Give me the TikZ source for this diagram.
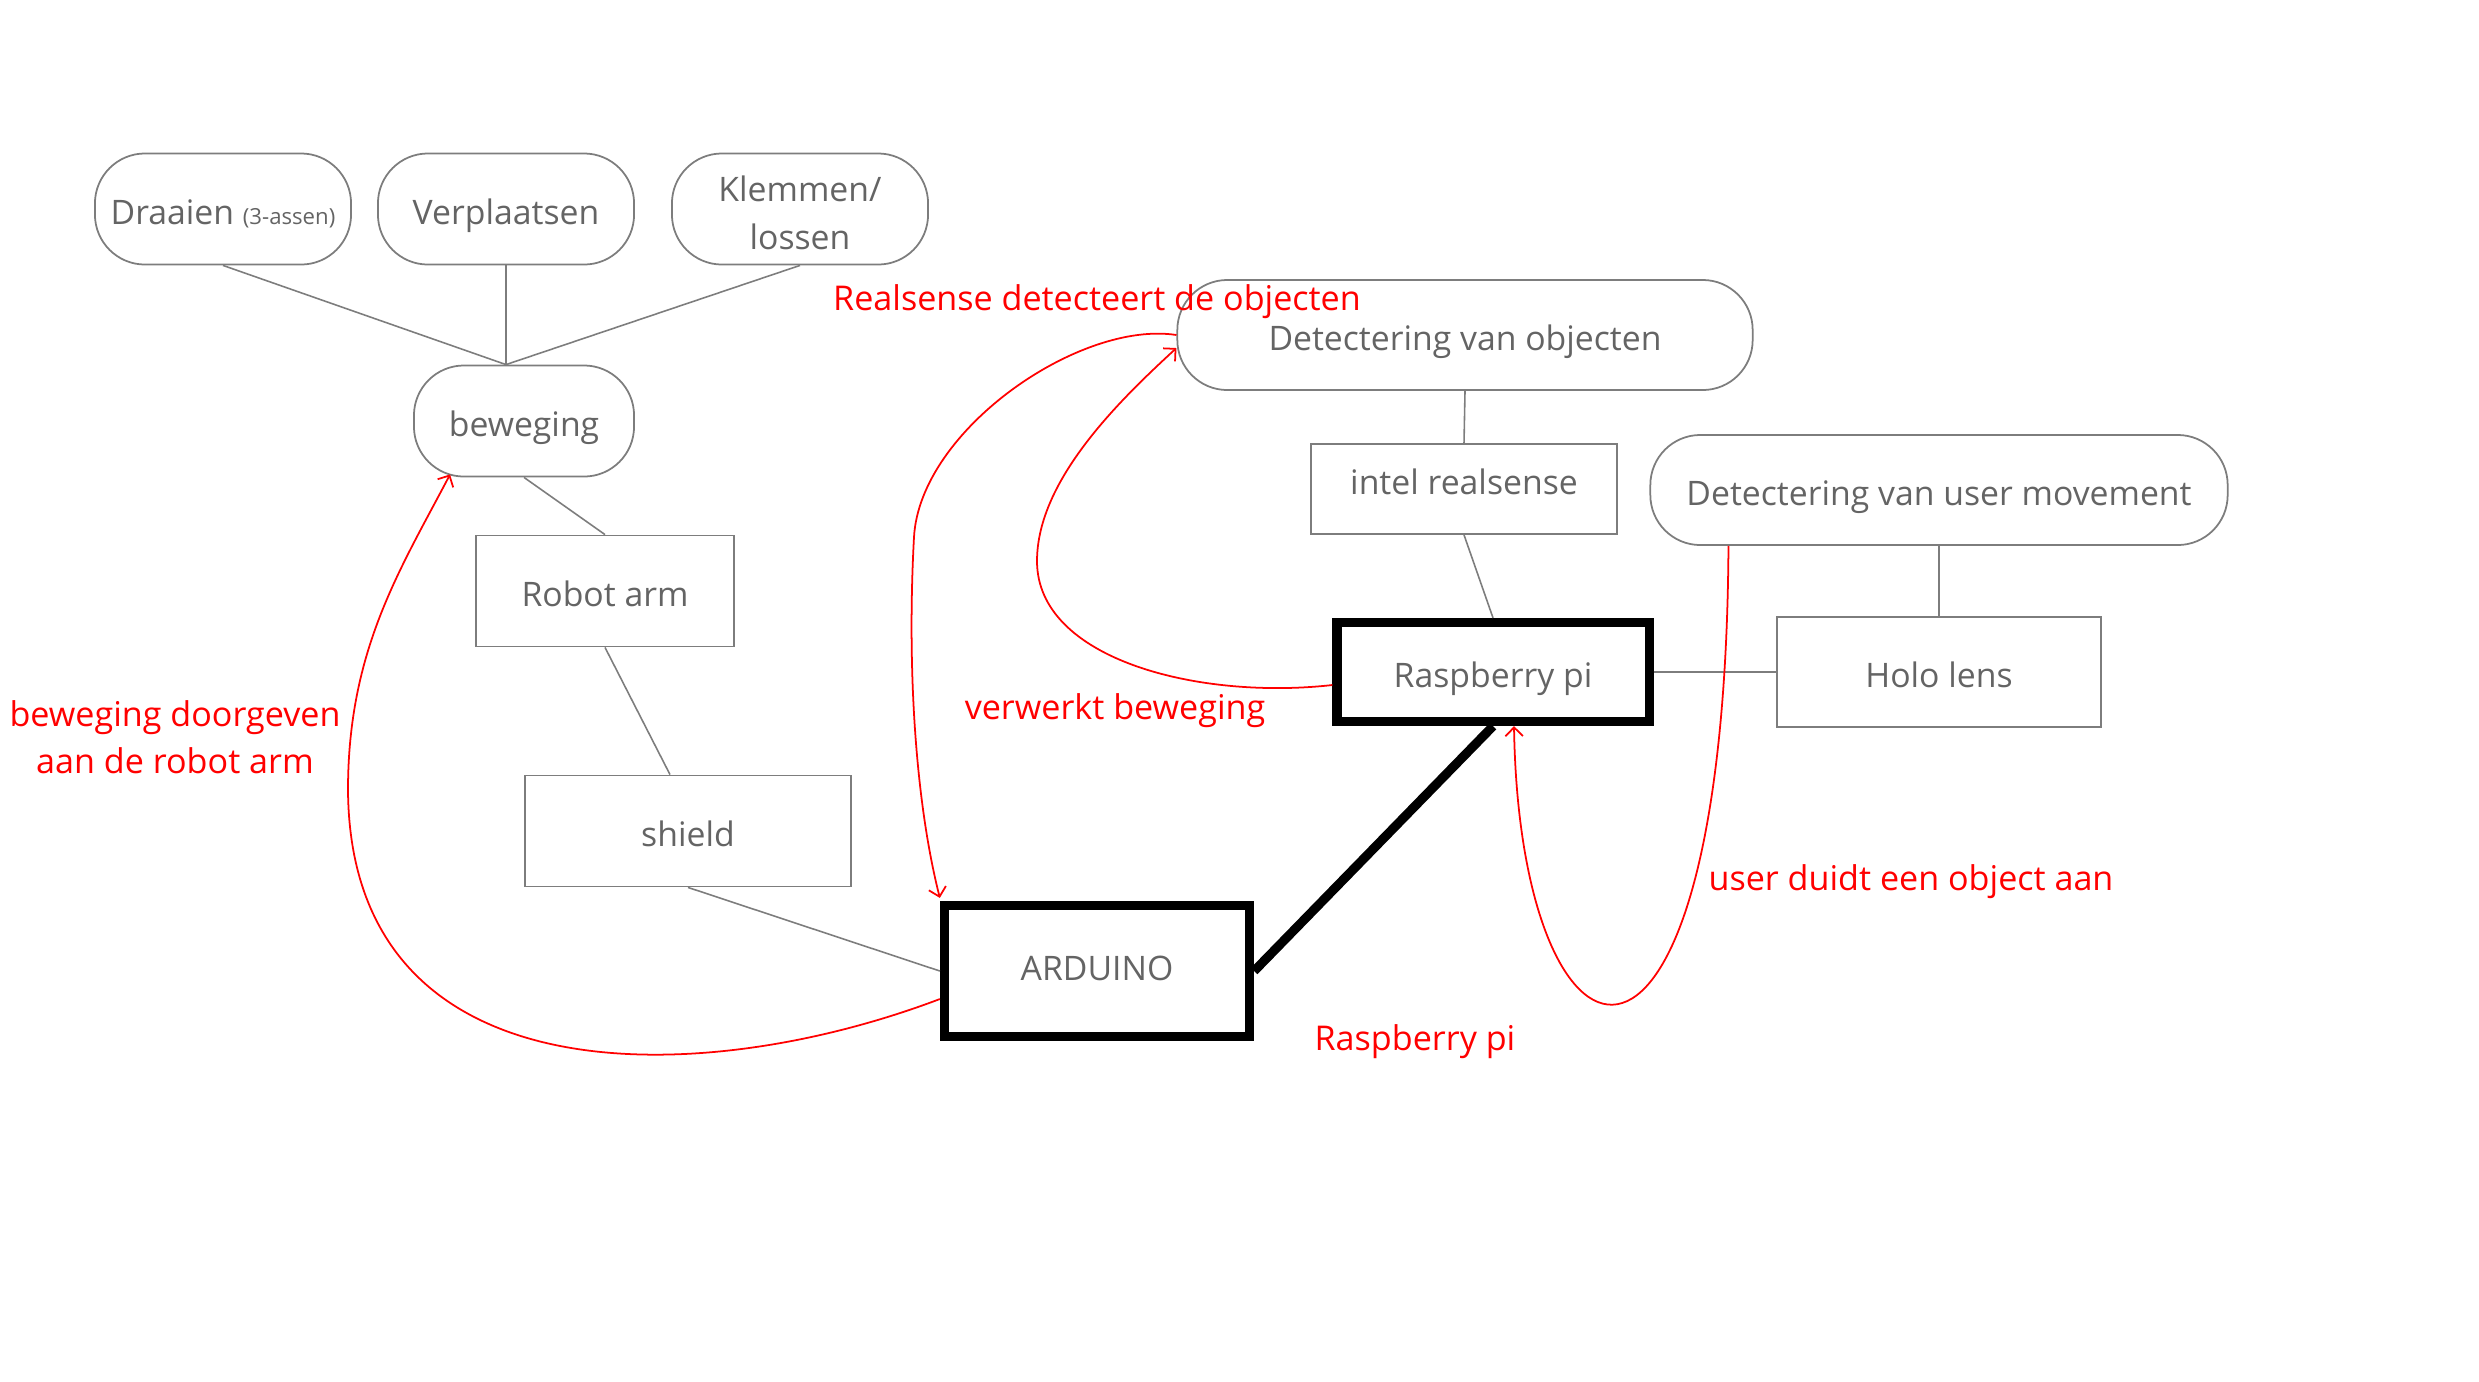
\documentclass[tikz,border=0pt]{standalone}
\usepackage{fontspec}
\setmainfont{Open Sans}
\usetikzlibrary{arrows.meta,calc}
\definecolor{txtgray}{RGB}{100,100,100}
\definecolor{linegray}{RGB}{125,125,125}
\definecolor{lblred}{RGB}{255,0,0}
\begin{document}
\begin{tikzpicture}[x=0.01cm,y=-0.01cm,
  base/.style={draw=linegray, line width=0.5pt, text=txtgray, font=\fontsize{9.6}{13.9}\selectfont, inner sep=0pt, align=center},
  oneline/.style={text height=11.2pt, text depth=2.4pt},
  pill/.style={base, rounded corners=0.5cm},
  boxnode/.style={base},
  thickbox/.style={draw=black, line width=2.6pt, text=txtgray, font=\fontsize{9.6}{13.9}\selectfont, inner sep=0pt, align=center},
  link/.style={draw=linegray, line width=0.45pt},
  redarrow/.style={draw=lblred, line width=0.5pt, -{Straight Barb[length=2.5pt,width=5pt]}},
  lbl/.style={text=lblred, font=\fontsize{9.7}{13.4}\selectfont, align=center, inner sep=0pt}
]
\useasboundingbox (0,0) rectangle (2479,1381);

% top row
\node[pill, oneline, minimum width=2.56cm, minimum height=1.11cm] (draaien) at (223,209) {Draaien {\fontsize{6.3}{8}\selectfont (3-assen)}};
\node[pill, oneline, minimum width=2.56cm, minimum height=1.11cm] (verpl) at (506,209) {Verplaatsen};
\node[pill, minimum width=2.56cm, minimum height=1.11cm] (klem) at (800,209) {\raisebox{-1.9pt}[\height][\depth]{\begin{tabular}{@{}c@{}}Klemmen/\\lossen\end{tabular}}};
\node[pill, oneline, minimum width=2.20cm, minimum height=1.11cm] (bew) at (524,421) {beweging};
\node[boxnode, oneline, minimum width=2.58cm, minimum height=1.11cm] (robot) at (605,591) {Robot arm};
\node[boxnode, oneline, minimum width=3.26cm, minimum height=1.11cm] (shield) at (688,831) {shield};
\node[thickbox, text height=7.6pt, text depth=2.4pt, minimum width=3.05cm, minimum height=1.31cm] (ard) at (1097,971) {ARDUINO};

\node[pill, oneline, minimum width=5.75cm, minimum height=1.10cm] (detobj) at (1465,335) {Detectering van objecten};
\node[boxnode, text height=7.1pt, text depth=4.1pt, minimum width=3.06cm, minimum height=0.90cm] (intel) at (1464,489) {intel realsense};
\node[pill, oneline, minimum width=5.77cm, minimum height=1.10cm] (detuser) at (1939,490) {Detectering van user movement};
\node[thickbox, text height=11.4pt, text depth=2.4pt, minimum width=3.12cm, minimum height=0.99cm] (rasp) at (1493,672) {Raspberry pi};
\node[boxnode, oneline, minimum width=3.24cm, minimum height=1.10cm] (holo) at (1939,672) {Holo lens};

% gray connectors
\coordinate (bewtop) at (verpl.south |- bew.north);
\draw[link] (draaien.south) -- (bewtop);
\draw[link] (verpl.south) -- (bewtop);
\draw[link] (klem.south) -- (bewtop);
\draw[link] (bew.south) -- (robot.north);
\draw[link] (robot.south) -- ($(shield.north)+(-18,0)$);
\draw[link] (shield.south) -- (ard.west);
\draw[link] (detobj.south) -- (intel.north);
\draw[link] (intel.south) -- (rasp.north);
\draw[link] (rasp.east) -- (holo.west);
\draw[link] (detuser.south) -- (holo.north);

% thick connector
\draw[black, line width=2.6pt] (ard.east) -- (rasp.south);

% red arrows
\draw[redarrow] ([yshift=-0.28cm]ard.west) .. controls (700,1090) and (350,1100) .. (348,790)
   .. controls (348,650) and (400,570) .. ($(bew.south west)+(37,-3)$);
\draw[redarrow] ([yshift=-0.13cm]rasp.west) .. controls (1200,700) and (1037,660) .. (1037,561)
   .. controls (1037,480) and (1120,400) .. ([yshift=-0.13cm]detobj.west);
\draw[redarrow] (detobj.west) .. controls (1080,320) and (920,430) .. (914,537)
   .. controls (907,665) and (915,800) .. ($(ard.north west)+(0,-3)$);
\draw[redarrow] ($(detuser.south west)+(79,0)$) .. controls (1725,1150) and (1520,1100) .. ($(rasp.south)+(21,0)$);

% red labels
\node[lbl] (l1) at (1097,302) {Realsense detecteert de objecten};
\node[lbl] (l2) at (1115,711) {verwerkt beweging};
\node[lbl] (l3) at (175,737) {beweging doorgeven\\aan de robot arm};
\node[lbl] (l4) at (1911,882) {user duidt een object aan};
\node[lbl] (l5) at (1415,1042) {Raspberry pi};
\end{tikzpicture}
\end{document}
